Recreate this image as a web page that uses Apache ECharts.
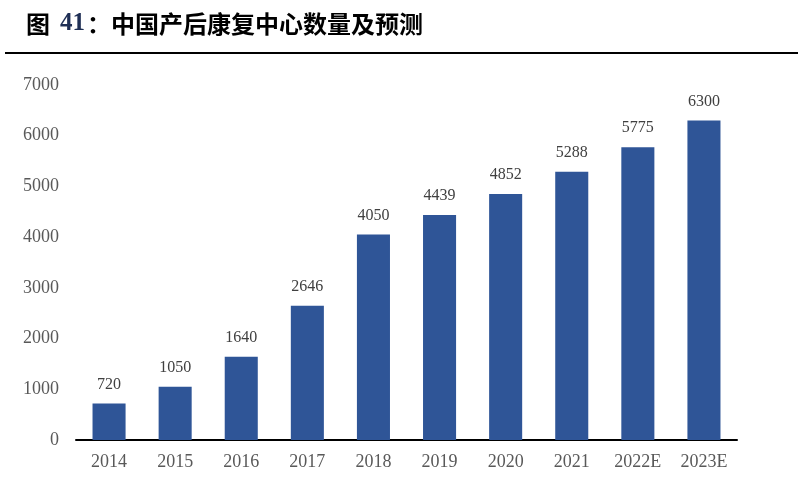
<!DOCTYPE html>
<html>
<head>
    <meta charset="utf-8">
    <title>中国产后康复中心数量及预测</title>
    <script src="https://cdn.jsdelivr.net/npm/echarts@6/dist/echarts.min.js"></script>
    <style>
        html, body { margin: 0; padding: 0; background: #fff; }
        #main { width: 798px; height: 485px; }
    </style>
</head>
<body>
<div id="main"></div>
<script>
    // 年份
    var years = ['2014', '2015', '2016', '2017', '2018', '2019', '2020', '2021', '2022E', '2023E'];
    // 产后康复中心数量（家）
    var centers = [720, 1050, 1640, 2646, 4050, 4439, 4852, 5288, 5775, 6300];

    var myChart = echarts.init(document.getElementById('main'));
    var serif = '"Liberation Serif", "Times New Roman", serif';

    var option = {
        backgroundColor: '#fff',
        animation: false,
        title: {
            text: '图{num|41}：中国产后康复中心数量及预测',
            left: 21,
            top: 6,
            textStyle: {
                fontFamily: '"Noto Sans CJK SC"',
                fontWeight: 'bold',
                fontSize: 24,
                color: '#000',
                rich: {
                    num: {
                        fontFamily: serif,
                        fontWeight: 'bold',
                        fontSize: 25,
                        color: '#1f2f55',
                        padding: [0, 2, 0, 10]
                    }
                }
            }
        },
        graphic: [{
            type: 'line',
            shape: { x1: 5, y1: 53, x2: 798, y2: 53 },
            style: { stroke: '#000', lineWidth: 2 }
        }],
        grid: { left: 76, right: 61, top: 85, bottom: 45 },
        xAxis: {
            type: 'category',
            data: years,
            axisLine: { lineStyle: { color: '#000', width: 2 } },
            axisTick: { show: false },
            axisLabel: {
                fontFamily: serif,
                fontSize: 18,
                color: '#595959',
                margin: 13
            }
        },
        yAxis: {
            type: 'value',
            min: 0,
            max: 7000,
            interval: 1000,
            splitLine: { show: false },
            axisLine: { show: false },
            axisTick: { show: false },
            axisLabel: {
                fontFamily: serif,
                fontSize: 18,
                color: '#595959',
                margin: 17,
                formatter: function (v) { return String(v); }
            }
        },
        series: [{
            type: 'bar',
            data: centers,
            barWidth: '50%',
            itemStyle: { color: '#2F5597' },
            label: {
                show: true,
                position: 'top',
                distance: 11,
                fontFamily: serif,
                fontSize: 16,
                color: '#404040'
            }
        }]
    };

    option && myChart.setOption(option);
</script>
</body>
</html>
